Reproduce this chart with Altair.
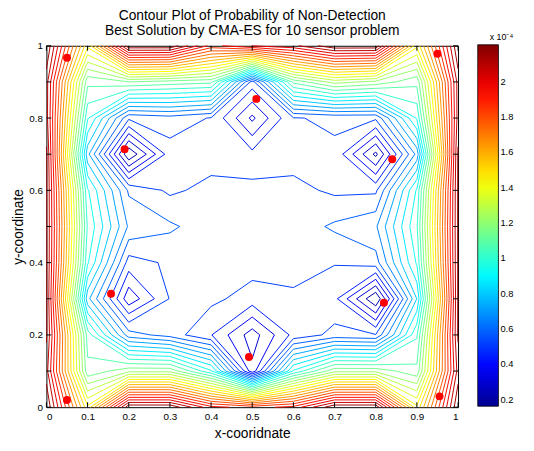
import altair as alt
import numpy as np
import pandas as pd

# grid coordinates of the sampled field
x_grid = [0.0, 0.1, 0.2, 0.3, 0.4, 0.5, 0.6, 0.7, 0.8, 0.9, 1.0]
y_grid = [0.0, 0.1, 0.2, 0.3, 0.4, 0.5, 0.6, 0.7, 0.8, 0.9, 1.0]

# probability of non-detection (x 1e-4), rows listed from y = 1.0 (top) down to y = 0.0
z_y10 = [2.21, 1.45, 2.20, 2.20, 1.90, 2.00, 2.05, 2.20, 2.20, 1.45, 2.21]
z_y09 = [2.10, 1.10, 1.15, 1.12, 1.10, 0.484, 1.10, 1.25, 1.20, 1.10, 2.10]
z_y08 = [2.10, 0.95, 0.529, 0.556, 0.511, 0.288, 0.511, 0.529, 0.529, 0.95, 2.10]
z_y07 = [2.15, 0.75, 0.17, 0.484, 0.484, 0.466, 0.484, 0.502, 0.215, 0.68, 2.15]
z_y06 = [2.15, 0.95, 0.575, 0.502, 0.538, 0.538, 0.538, 0.502, 0.502, 0.95, 2.15]
z_y05 = [2.15, 1.00, 0.646, 0.599, 0.547, 0.547, 0.547, 0.599, 0.646, 1.00, 2.15]
z_y04 = [2.15, 0.95, 0.484, 0.529, 0.547, 0.547, 0.547, 0.520, 0.556, 0.95, 2.15]
z_y03 = [2.15, 0.75, 0.323, 0.520, 0.534, 0.484, 0.502, 0.466, 0.163, 0.80, 2.15]
z_y02 = [2.15, 1.05, 0.620, 0.556, 0.449, 0.268, 0.466, 0.538, 0.520, 1.00, 2.15]
z_y01 = [2.10, 1.10, 1.20, 1.20, 0.95, 0.323, 0.95, 1.20, 1.20, 1.10, 2.10]
z_y00 = [2.21, 1.45, 2.20, 2.20, 1.95, 1.90, 1.95, 2.20, 2.20, 1.45, 2.21]
z_rows = [z_y10, z_y09, z_y08, z_y07, z_y06, z_y05, z_y04, z_y03, z_y02, z_y01, z_y00]

n_levels = 28

# sensor positions of the best solution
sensor_x = [0.05, 0.05, 0.95, 0.955, 0.19, 0.51, 0.84, 0.157, 0.492, 0.82]
sensor_y = [0.967, 0.02, 0.978, 0.03, 0.714, 0.853, 0.686, 0.314, 0.139, 0.289]

x_ticks = [0, 0.1, 0.2, 0.3, 0.4, 0.5, 0.6, 0.7, 0.8, 0.9, 1]
cb_ticks = [0.2, 0.4, 0.6, 0.8, 1.0, 1.2, 1.4, 1.6, 1.8, 2.0]

# ---------- contour lines (marching squares, linear interpolation) ----------
Z = np.array(z_rows[::-1], dtype=float)  # Z[j, i] -> (x_grid[i], y_grid[j])
zmin, zmax = float(Z.min()), float(Z.max())
levels = np.linspace(zmin, zmax, n_levels + 2)[1:-1]


def cross(p1, p2, v1, v2, lv):
    t = (lv - v1) / (v2 - v1)
    return (p1[0] + t * (p2[0] - p1[0]), p1[1] + t * (p2[1] - p1[1]))


rows = []
ny, nx = Z.shape
for lv in levels:
    for j in range(ny - 1):
        for i in range(nx - 1):
            c00 = (x_grid[i], y_grid[j]); c10 = (x_grid[i + 1], y_grid[j])
            c11 = (x_grid[i + 1], y_grid[j + 1]); c01 = (x_grid[i], y_grid[j + 1])
            v00, v10, v11, v01 = Z[j, i], Z[j, i + 1], Z[j + 1, i + 1], Z[j + 1, i]
            edges = [(c00, c10, v00, v10), (c10, c11, v10, v11),
                     (c01, c11, v01, v11), (c00, c01, v00, v01)]
            pts = {}
            for k, (pa, pb, va, vb) in enumerate(edges):
                if (va >= lv) != (vb >= lv):
                    pts[k] = cross(pa, pb, va, vb, lv)
            pairs = []
            if len(pts) == 2:
                a, b = list(pts.values())
                pairs.append((a, b))
            elif len(pts) == 4:
                centre = (v00 + v10 + v11 + v01) / 4.0
                if (centre >= lv) == (v00 >= lv):
                    pairs += [(pts[0], pts[1]), (pts[2], pts[3])]
                else:
                    pairs += [(pts[0], pts[3]), (pts[1], pts[2])]
            for a, b in pairs:
                rows.append({"x": a[0], "y": a[1], "x2": b[0], "y2": b[1], "level": float(lv)})

seg_df = pd.DataFrame(rows)
sensor_df = pd.DataFrame({"x": sensor_x, "y": sensor_y})
xtick_df = pd.DataFrame({"x": x_ticks})
ytick_df = pd.DataFrame({"y": x_ticks})

# MATLAB jet colormap stops
jet_pos = [0.0, 0.111, 0.365, 0.619, 0.873, 1.0]
jet_col = ["#000090", "#0000ff", "#00ffff", "#ffff00", "#ff0000", "#800000"]
color_domain = [zmin + p * (zmax - zmin) for p in jet_pos]

FONT = "Liberation Sans"
W, H = 418, 367

x_enc = alt.X("x:Q", scale=alt.Scale(domain=[0, 1], nice=False, zero=False),
              axis=alt.Axis(values=x_ticks, format=".1~f", title="x-cooridnate",
                            grid=False, ticks=False, labelPadding=4, titlePadding=6,
                            labelFontSize=10, titleFontSize=14, labelFont=FONT, titleFont=FONT,
                            titleFontWeight="normal", domain=False, labelColor="black",
                            titleColor="black"))
y_enc = alt.Y("y:Q", scale=alt.Scale(domain=[0, 1], nice=False, zero=False),
              axis=alt.Axis(values=x_ticks, format=".1~f", title="y-coordinate",
                            grid=False, ticks=False, labelPadding=4, titlePadding=3,
                            labelFontSize=10, titleFontSize=14, labelFont=FONT, titleFont=FONT,
                            titleFontWeight="normal", domain=False, labelColor="black",
                            titleColor="black"))

lines = alt.Chart(seg_df).mark_rule(strokeWidth=1).encode(
    x=x_enc, y=y_enc, x2="x2:Q", y2="y2:Q",
    color=alt.Color("level:Q",
                    scale=alt.Scale(domain=color_domain, range=jet_col, interpolate="rgb"),
                    legend=alt.Legend(title="x 10⁻⁴", orient="none", legendX=438, legendY=-13,
                                      direction="vertical", gradientLength=H,
                                      gradientThickness=21, values=cb_ticks, format=".1~f",
                                      labelFontSize=9.5, labelFont=FONT, titleFont=FONT,
                                      titleFontSize=9, titleFontWeight="normal", titlePadding=3,
                                      gradientStrokeColor="black", gradientStrokeWidth=0.8,
                                      titleAnchor="end", labelColor="black", titleColor="black")),
)

points = alt.Chart(sensor_df).mark_circle(color="#ff0000", size=65, opacity=1).encode(
    x="x:Q", y="y:Q")

# MATLAB-style inward tick marks on all four sides of the box
tick_style = dict(color="black", size=5, thickness=1, opacity=1)
ticks_bottom = alt.Chart(xtick_df).mark_tick(**tick_style).encode(x="x:Q", y=alt.value(H - 2.5))
ticks_top = alt.Chart(xtick_df).mark_tick(**tick_style).encode(x="x:Q", y=alt.value(2.5))
ticks_left = alt.Chart(ytick_df).mark_tick(**tick_style).encode(y="y:Q", x=alt.value(2.5))
ticks_right = alt.Chart(ytick_df).mark_tick(**tick_style).encode(y="y:Q", x=alt.value(W - 2.5))

chart = alt.layer(lines, points, ticks_bottom, ticks_top, ticks_left, ticks_right).properties(
    width=W, height=H,
    title=alt.TitleParams(["Contour Plot of Probability of Non-Detection",
                           "Best Solution by CMA-ES for 10 sensor problem"],
                          fontSize=14, fontWeight="normal", font=FONT, anchor="middle",
                          offset=-5, lineHeight=15, color="black"),
    autosize=alt.AutoSizeParams(type="none"),
    padding={"left": 39, "top": 35, "right": 69, "bottom": 33},
).configure_view(stroke="black", strokeWidth=1)

chart.save("out.html", embed_options={"renderer": "svg", "actions": False})
